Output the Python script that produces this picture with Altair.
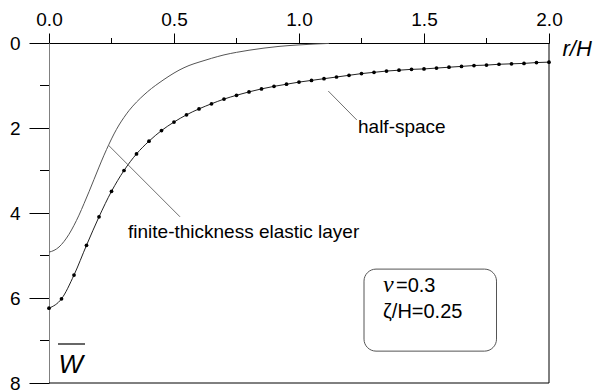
import altair as alt
import pandas as pd

# ---------------- data ----------------
hs_r = [0.00, 0.05, 0.10, 0.15, 0.20, 0.25, 0.30, 0.35, 0.40, 0.45,
        0.50, 0.55, 0.60, 0.65, 0.70, 0.75, 0.80, 0.85, 0.90, 0.95,
        1.00, 1.05, 1.10, 1.15, 1.20, 1.25, 1.30, 1.35, 1.40, 1.45,
        1.50, 1.55, 1.60, 1.65, 1.70, 1.75, 1.80, 1.85, 1.90, 1.95, 2.00]
hs_w = [6.24, 6.02, 5.46, 4.76, 4.09, 3.49, 3.00, 2.61, 2.31, 2.06,
        1.86, 1.69, 1.55, 1.43, 1.32, 1.23, 1.15, 1.08, 1.02, 0.97,
        0.92, 0.88, 0.84, 0.80, 0.76, 0.72, 0.69, 0.66, 0.64, 0.62,
        0.61, 0.59, 0.57, 0.55, 0.53, 0.52, 0.50, 0.49, 0.48, 0.46, 0.45]

ft_r = [0.00, 0.02, 0.04, 0.06, 0.08, 0.10, 0.12, 0.14, 0.16, 0.18,
        0.20, 0.22, 0.24, 0.26, 0.28, 0.30, 0.32, 0.35, 0.38, 0.41,
        0.44, 0.48, 0.52, 0.56, 0.60, 0.65, 0.70, 0.75, 0.80, 0.86,
        0.92, 1.00, 1.06, 1.12]
ft_w = [4.92, 4.88, 4.80, 4.67, 4.50, 4.29, 4.05, 3.78, 3.50, 3.21,
        2.92, 2.64, 2.38, 2.14, 1.93, 1.75, 1.59, 1.39, 1.22, 1.07,
        0.94, 0.78, 0.64, 0.53, 0.45, 0.36, 0.28, 0.22, 0.17, 0.12,
        0.08, 0.045, 0.025, 0.01]

x_ticks = [0.0, 0.5, 1.0, 1.5, 2.0]
x_minor = [0.25, 0.75, 1.25, 1.75]
y_ticks = [0, 2, 4, 6, 8]
y_minor = [1, 3, 5, 7]

label_texts = ["half-space", "finite-thickness elastic layer"]
box_texts = ["\u03bd", "=0.3", "\u03b6/H=0.25"]

# ---------------- tables ----------------
hs = pd.DataFrame({"r": hs_r, "w": hs_w})
ft = pd.DataFrame({"r": ft_r, "w": ft_w})
xminor_df = pd.DataFrame({"r": x_minor})
yminor_df = pd.DataFrame({"w": y_minor})

labels_df = pd.DataFrame({"r": [1.236, 0.316], "w": [2.12, 4.59], "t": label_texts})
leaders_df = pd.DataFrame({"r": [1.117, 0.237], "w": [1.13, 2.40],
                           "r2": [1.231, 0.524], "w2": [1.81, 4.09]})
box_df = pd.DataFrame({"r": [1.26], "r2": [1.79], "w": [5.32], "w2": [7.25]})
nu_df = pd.DataFrame({"r": [1.336], "w": [5.86], "t": [box_texts[0]]})
box_txt_df = pd.DataFrame({"r": [1.388, 1.336], "w": [5.86, 6.47], "t": box_texts[1:]})

FONT = "Liberation Sans"

xs = alt.Scale(domain=[0, 2], nice=False, zero=False)
ys = alt.Scale(domain=[0, 8], reverse=True, nice=False)

x_axis = alt.Axis(orient="top", values=x_ticks, format=".1f", tickSize=10,
                  labelFontSize=19, labelPadding=4, labelFont=FONT, labelFlush=False,
                  labelColor="black", domainColor="black", tickColor="black",
                  grid=False, title="r/H", titleX=513, titleY=12,
                  titleAlign="left", titleBaseline="alphabetic", titleAngle=0,
                  titleFont=FONT, titleFontSize=22, titleFontStyle="italic",
                  titleFontWeight="normal", titleColor="black")
y_axis = alt.Axis(orient="left", values=y_ticks, format="d", tickSize=20,
                  labelFontSize=19, labelPadding=9, labelFont=FONT, labelFlush=False,
                  labelColor="black", domainColor="#808080", tickColor="black",
                  grid=False, title="W", titleX=9, titleY=329,
                  titleAlign="left", titleBaseline="alphabetic", titleAngle=0,
                  titleFont=FONT, titleFontSize=26, titleFontStyle="italic",
                  titleFontWeight="normal", titleColor="black")

X = alt.X("r:Q", scale=xs, axis=x_axis)
Y = alt.Y("w:Q", scale=ys, axis=y_axis)

# ---------------- layers ----------------
finite_line = alt.Chart(ft).mark_line(color="#555555", strokeWidth=1,
                                      interpolate="monotone").encode(x=X, y=Y)
half_line = alt.Chart(hs).mark_line(color="#222222", strokeWidth=1,
                                    interpolate="monotone").encode(x=X, y=Y)
half_pts = alt.Chart(hs).mark_point(filled=True, color="black", size=14,
                                    opacity=1).encode(x=X, y=Y)

xminor = alt.Chart(xminor_df).mark_rule(color="black", strokeWidth=1).encode(
    x=X, y=alt.value(-5), y2=alt.value(0))
yminor = alt.Chart(yminor_df).mark_rule(color="black", strokeWidth=1).encode(
    y=Y, x=alt.value(-9), x2=alt.value(0))

right_border = alt.Chart().mark_rule(color="black", strokeWidth=1).encode(
    x=alt.value(500), y=alt.value(0), y2=alt.value(340))
bottom_border = alt.Chart().mark_rule(color="black", strokeWidth=1).encode(
    x=alt.value(0), x2=alt.value(500), y=alt.value(340))
overline = alt.Chart().mark_rule(color="black", strokeWidth=1.2).encode(
    x=alt.value(9), x2=alt.value(36), y=alt.value(301))

leaders = alt.Chart(leaders_df).mark_rule(color="#707070", strokeWidth=1).encode(
    x=X, y=Y, x2="r2:Q", y2="w2:Q")
labels = alt.Chart(labels_df).mark_text(align="left", baseline="alphabetic",
                                        font=FONT, fontSize=19, color="black").encode(
    x=X, y=Y, text="t:N")

box = alt.Chart(box_df).mark_rect(cornerRadius=12, fillOpacity=0, stroke="#555555",
                                  strokeWidth=1).encode(x=X, x2="r2:Q", y=Y, y2="w2:Q")
nu = alt.Chart(nu_df).mark_text(align="left", baseline="alphabetic",
                                font="Liberation Serif", fontStyle="italic",
                                fontSize=24, color="black").encode(x=X, y=Y, text="t:N")
box_txt = alt.Chart(box_txt_df).mark_text(align="left", baseline="alphabetic",
                                          font=FONT, fontSize=20, color="black").encode(
    x=X, y=Y, text="t:N")

chart = alt.layer(
    finite_line, half_line, half_pts, xminor, yminor, leaders, labels,
    box, nu, box_txt, right_border, bottom_border, overline
).properties(
    width=500, height=340,
    autosize=alt.AutoSizeParams(type="none"),
    padding={"left": 49, "top": 43, "right": 47, "bottom": 9},
    background="white",
).configure_view(stroke=None)

chart.save("out.html", embed_options={"renderer": "svg", "actions": False})
